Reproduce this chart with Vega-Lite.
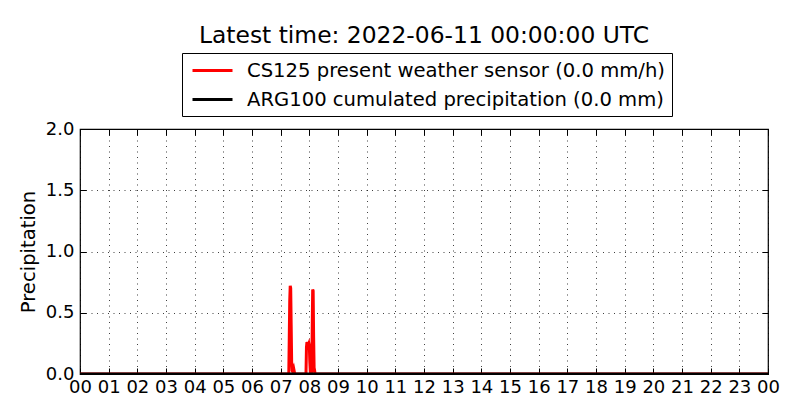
{
  "$schema": "https://vega.github.io/schema/vega-lite/v6.json",
  "autosize": "none",
  "width": 688,
  "height": 245,
  "padding": {"left": 80, "top": 129, "right": 32, "bottom": 46},
  "background": "white",
  "title": {
    "text": "Latest time: 2022-06-11 00:00:00 UTC",
    "font": "DejaVu Sans",
    "fontSize": 23.4,
    "fontWeight": "normal",
    "color": "black",
    "anchor": "middle",
    "frame": "group",
    "offset": 4
  },
  "data": {
    "values": [
      {"series": "CS125 present weather sensor (0.0 mm/h)", "t": "2022-06-10T00:00:00Z", "v": 0},
      {"series": "CS125 present weather sensor (0.0 mm/h)", "t": "2022-06-10T07:17:00Z", "v": 0},
      {"series": "CS125 present weather sensor (0.0 mm/h)", "t": "2022-06-10T07:18:00Z", "v": 0.3},
      {"series": "CS125 present weather sensor (0.0 mm/h)", "t": "2022-06-10T07:19:00Z", "v": 0.6},
      {"series": "CS125 present weather sensor (0.0 mm/h)", "t": "2022-06-10T07:20:00Z", "v": 0.72},
      {"series": "CS125 present weather sensor (0.0 mm/h)", "t": "2022-06-10T07:21:00Z", "v": 0.7},
      {"series": "CS125 present weather sensor (0.0 mm/h)", "t": "2022-06-10T07:22:00Z", "v": 0.4},
      {"series": "CS125 present weather sensor (0.0 mm/h)", "t": "2022-06-10T07:23:00Z", "v": 0.1},
      {"series": "CS125 present weather sensor (0.0 mm/h)", "t": "2022-06-10T07:24:00Z", "v": 0.03},
      {"series": "CS125 present weather sensor (0.0 mm/h)", "t": "2022-06-10T07:25:00Z", "v": 0.02},
      {"series": "CS125 present weather sensor (0.0 mm/h)", "t": "2022-06-10T07:26:00Z", "v": 0.04},
      {"series": "CS125 present weather sensor (0.0 mm/h)", "t": "2022-06-10T07:27:00Z", "v": 0.05},
      {"series": "CS125 present weather sensor (0.0 mm/h)", "t": "2022-06-10T07:28:00Z", "v": 0.03},
      {"series": "CS125 present weather sensor (0.0 mm/h)", "t": "2022-06-10T07:29:00Z", "v": 0.01},
      {"series": "CS125 present weather sensor (0.0 mm/h)", "t": "2022-06-10T07:30:00Z", "v": 0},
      {"series": "CS125 present weather sensor (0.0 mm/h)", "t": "2022-06-10T07:53:00Z", "v": 0},
      {"series": "CS125 present weather sensor (0.0 mm/h)", "t": "2022-06-10T07:54:00Z", "v": 0.22},
      {"series": "CS125 present weather sensor (0.0 mm/h)", "t": "2022-06-10T07:55:00Z", "v": 0.26},
      {"series": "CS125 present weather sensor (0.0 mm/h)", "t": "2022-06-10T07:56:00Z", "v": 0.25},
      {"series": "CS125 present weather sensor (0.0 mm/h)", "t": "2022-06-10T07:57:00Z", "v": 0.2},
      {"series": "CS125 present weather sensor (0.0 mm/h)", "t": "2022-06-10T07:58:00Z", "v": 0.24},
      {"series": "CS125 present weather sensor (0.0 mm/h)", "t": "2022-06-10T07:59:00Z", "v": 0.25},
      {"series": "CS125 present weather sensor (0.0 mm/h)", "t": "2022-06-10T08:00:00Z", "v": 0.23},
      {"series": "CS125 present weather sensor (0.0 mm/h)", "t": "2022-06-10T08:01:00Z", "v": 0.1},
      {"series": "CS125 present weather sensor (0.0 mm/h)", "t": "2022-06-10T08:02:00Z", "v": 0.02},
      {"series": "CS125 present weather sensor (0.0 mm/h)", "t": "2022-06-10T08:03:00Z", "v": 0},
      {"series": "CS125 present weather sensor (0.0 mm/h)", "t": "2022-06-10T08:04:00Z", "v": 0.01},
      {"series": "CS125 present weather sensor (0.0 mm/h)", "t": "2022-06-10T08:05:00Z", "v": 0},
      {"series": "CS125 present weather sensor (0.0 mm/h)", "t": "2022-06-10T08:06:00Z", "v": 0.35},
      {"series": "CS125 present weather sensor (0.0 mm/h)", "t": "2022-06-10T08:07:00Z", "v": 0.69},
      {"series": "CS125 present weather sensor (0.0 mm/h)", "t": "2022-06-10T08:08:00Z", "v": 0.68},
      {"series": "CS125 present weather sensor (0.0 mm/h)", "t": "2022-06-10T08:09:00Z", "v": 0.3},
      {"series": "CS125 present weather sensor (0.0 mm/h)", "t": "2022-06-10T08:10:00Z", "v": 0.05},
      {"series": "CS125 present weather sensor (0.0 mm/h)", "t": "2022-06-10T08:11:00Z", "v": 0.03},
      {"series": "CS125 present weather sensor (0.0 mm/h)", "t": "2022-06-10T08:12:00Z", "v": 0},
      {"series": "CS125 present weather sensor (0.0 mm/h)", "t": "2022-06-11T00:00:00Z", "v": 0},
      {"series": "ARG100 cumulated precipitation (0.0 mm)", "t": "2022-06-10T00:00:00Z", "v": 0},
      {"series": "ARG100 cumulated precipitation (0.0 mm)", "t": "2022-06-11T00:00:00Z", "v": 0}
    ]
  },
  "encoding": {
    "color": {
      "field": "series",
      "type": "nominal",
      "scale": {
        "domain": ["CS125 present weather sensor (0.0 mm/h)", "ARG100 cumulated precipitation (0.0 mm)"],
        "range": ["#ff0000", "#000000"]
      },
      "legend": {
        "title": null,
        "orient": "none",
        "legendX": 102,
        "legendY": -76,
        "symbolType": "M-2,0H2",
        "symbolSize": 400,
        "symbolStrokeWidth": 3,
        "symbolOffset": 13,
        "labelFont": "DejaVu Sans",
        "labelFontSize": 19.6,
        "labelColor": "black",
        "labelOffset": 23,
        "labelLimit": 0,
        "strokeColor": "black",
        "fillColor": "white",
        "padding": 6,
        "rowPadding": 7
      }
    }
  },
  "layer": [
    {
      "transform": [{"filter": "datum.series == 'CS125 present weather sensor (0.0 mm/h)'"}],
      "mark": {"type": "line", "strokeWidth": 3, "clip": true},
      "encoding": {
        "x": {
          "field": "t",
          "type": "temporal",
          "scale": {
            "type": "utc",
            "domain": ["2022-06-10T00:00:00Z", "2022-06-11T00:00:00Z"],
            "nice": false
          },
          "axis": {
            "orient": "bottom",
            "title": null,
            "format": "%H",
            "tickCount": 24,
            "labelOverlap": false,
            "labelFlush": false,
            "grid": true,
            "offset": -6,
            "tickSize": 6,
            "labelPadding": 4
          }
        },
        "y": {
          "field": "v",
          "type": "quantitative",
          "scale": {"domain": [0, 2], "nice": false},
          "axis": {
            "orient": "left",
            "title": "Precipitation",
            "values": [0, 0.5, 1, 1.5, 2],
            "format": ".1f",
            "grid": true,
            "offset": -6,
            "tickSize": 6,
            "labelPadding": 6,
            "titlePadding": 7
          }
        }
      }
    },
    {
      "transform": [{"filter": "datum.series == 'ARG100 cumulated precipitation (0.0 mm)'"}],
      "mark": {"type": "line", "strokeWidth": 3, "clip": true},
      "encoding": {
        "x": {
          "field": "t",
          "type": "temporal",
          "axis": {
            "orient": "top",
            "title": null,
            "labels": false,
            "grid": false,
            "tickCount": 24,
            "offset": -6,
            "tickSize": 6
          }
        },
        "y": {
          "field": "v",
          "type": "quantitative",
          "axis": {
            "orient": "right",
            "title": null,
            "labels": false,
            "grid": false,
            "values": [0, 0.5, 1, 1.5, 2],
            "offset": -6,
            "tickSize": 6
          }
        }
      }
    }
  ],
  "resolve": {"axis": {"x": "independent", "y": "independent"}},
  "config": {
    "font": "DejaVu Sans",
    "view": {"stroke": "black", "strokeWidth": 1.2},
    "axis": {
      "domain": false,
      "tickColor": "black",
      "tickWidth": 1,
      "gridColor": "black",
      "gridOpacity": 0.75,
      "gridDash": [1, 4.5],
      "gridWidth": 1,
      "labelFont": "DejaVu Sans",
      "labelFontSize": 18,
      "labelColor": "black",
      "titleFont": "DejaVu Sans",
      "titleFontSize": 19.6,
      "titleFontWeight": "normal",
      "titleColor": "black"
    }
  }
}
